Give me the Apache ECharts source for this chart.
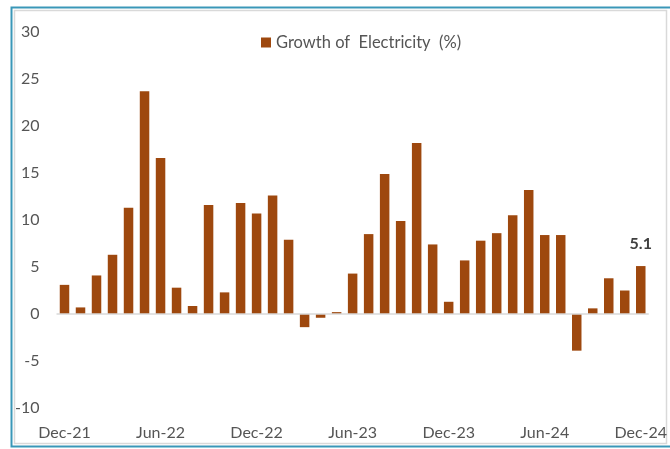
<!DOCTYPE html>
<html>
<head>
<meta charset="utf-8">
<script src="https://cdn.jsdelivr.net/npm/echarts@6/dist/echarts.min.js"></script>
<style>
html, body { margin: 0; padding: 0; background: #fff; }
#main { width: 670px; height: 449px; }
</style>
</head>
<body>
<div id="main"></div>
<script>
// monthly categories, Dec-21 .. Dec-24
var months = ['Dec-21', 'Jan-22', 'Feb-22', 'Mar-22', 'Apr-22', 'May-22', 'Jun-22', 'Jul-22', 'Aug-22', 'Sep-22', 'Oct-22', 'Nov-22',
	'Dec-22', 'Jan-23', 'Feb-23', 'Mar-23', 'Apr-23', 'May-23', 'Jun-23', 'Jul-23', 'Aug-23', 'Sep-23', 'Oct-23', 'Nov-23',
	'Dec-23', 'Jan-24', 'Feb-24', 'Mar-24', 'Apr-24', 'May-24', 'Jun-24', 'Jul-24', 'Aug-24', 'Sep-24', 'Oct-24', 'Nov-24',
	'Dec-24'];

var growth = [3.1, 0.7, 4.1, 6.3, 11.3, 23.7, 16.6, 2.8, 0.85, 11.6, 2.3, 11.8,
	10.7, 12.6, 7.9, -1.4, -0.4, 0.2, 4.3, 8.5, 14.9, 9.9, 18.2, 7.4,
	1.3, 5.7, 7.8, 8.6, 10.5, 13.2, 8.4, 8.4, -3.9, 0.6, 3.8, 2.5,
	5.1];

var seriesName = 'Growth of  Electricity  (%)';

var textColor = '#555555';
var barColor = '#9E480E';

var myChart = echarts.init(document.getElementById('main'));

var barData = growth.map(function (v, i) {
	if (i === growth.length - 1) {
		return {
			value : v,
			label : {
				show : true,
				position : 'top',
				distance : 14,
				color : '#404040',
				fontFamily : 'Lato',
				fontSize : 16,
				fontWeight : 'bold'
			}
		};
	}
	return v;
});

myChart.setOption({
	animation : false,
	backgroundColor : '#fff',
	graphic : [ {
		type : 'rect',
		shape : { x : 11.5, y : 7.5, width : 670, height : 439 },
		style : { fill : 'none', stroke : '#3A97B8', lineWidth : 2 },
		silent : true
	}, {
		type : 'rect',
		shape : { x : 14.5, y : 10.5, width : 652, height : 433 },
		style : { fill : 'none', stroke : '#D9D9D9', lineWidth : 1.5 },
		silent : true
	} ],
	legend : {
		data : [ seriesName ],
		left : 256,
		top : 29,
		itemWidth : 10,
		itemHeight : 10,
		itemGap : 3,
		icon : 'rect',
		textStyle : {
			color : textColor,
			fontFamily : 'Lato',
			fontSize : 16.5
		}
	},
	grid : {
		left : 56.5,
		right : 19.5,
		top : 32,
		bottom : 41
	},
	xAxis : {
		type : 'category',
		data : months,
		axisLine : { show : false, onZero : false },
		axisTick : { show : false },
		axisLabel : {
			interval : 5,
			margin : 17,
			color : textColor,
			fontFamily : 'Lato',
			fontSize : 16
		},
		splitLine : { show : false }
	},
	yAxis : {
		type : 'value',
		min : -10,
		max : 30,
		interval : 5,
		axisLine : { show : false },
		axisTick : { show : false },
		splitLine : { show : false },
		axisLabel : {
			margin : 17,
			color : textColor,
			fontFamily : 'Lato',
			fontSize : 16
		}
	},
	series : [ {
		name : seriesName,
		type : 'bar',
		data : barData,
		barWidth : 9.5,
		itemStyle : { color : barColor },
		markLine : {
			silent : true,
			symbol : 'none',
			label : { show : false },
			lineStyle : { color : '#D9D9D9', type : 'solid', width : 1.5 },
			data : [ { yAxis : 0 } ]
		}
	} ]
});
</script>
</body>
</html>
